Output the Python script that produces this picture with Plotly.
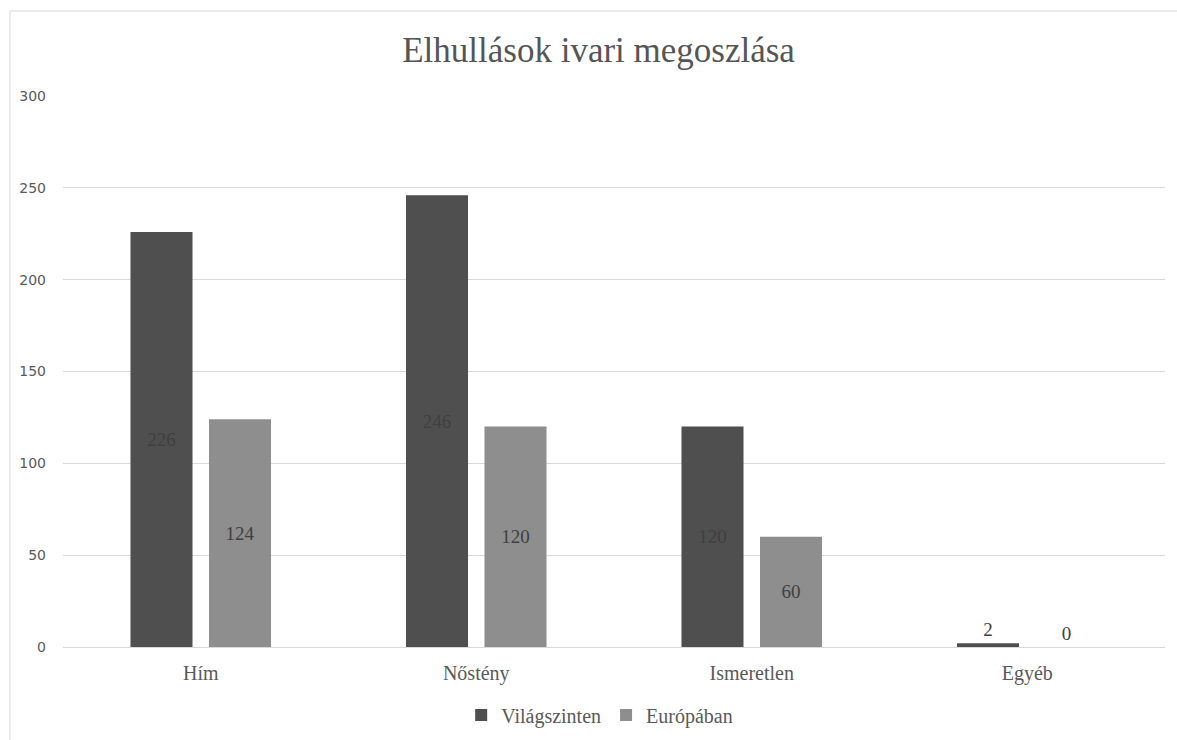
import plotly.graph_objects as go

categories = ["Hím", "Nőstény", "Ismeretlen", "Egyéb"]
vilag = [226, 246, 120, 2]
europa = [124, 120, 60, 0]
series_names = ["Világszinten", "Európában"]
yticks = [0, 50, 100, 150, 200, 250, 300]

serif = "Liberation Serif, Times New Roman, serif"
sans = "DejaVu Sans, sans-serif"

def positions(vals):
    return ["inside" if v > 10 else "outside" for v in vals]

fig = go.Figure()
fig.add_trace(go.Bar(
    x=categories, y=vilag, name=series_names[0],
    marker=dict(color="#4f4f4f", line=dict(width=0)),
    text=[str(v) for v in vilag], textposition=positions(vilag),
    insidetextanchor="middle", cliponaxis=False,
    textfont=dict(family=serif, size=19, color="#404040"),
))
fig.add_trace(go.Bar(
    x=categories, y=europa, name=series_names[1],
    marker=dict(color="#8e8e8e", line=dict(width=0)),
    text=[str(v) for v in europa], textposition=positions(europa),
    insidetextanchor="middle", cliponaxis=False,
    textfont=dict(family=serif, size=19, color="#404040"),
))

fig.update_layout(
    width=1177, height=740,
    margin=dict(l=63, r=12, t=96, b=93, autoexpand=False),
    paper_bgcolor="white", plot_bgcolor="white",
    barmode="group", bargap=0.43, bargroupgap=0.21,
    title=dict(text="Elhullások ivari megoszlása", x=0.486, xref="paper",
               xanchor="center", y=1 - 50/740, yanchor="middle",
               font=dict(family=serif, size=35, color="#555555")),
    showlegend=True,
    legend=dict(orientation="h", x=0.487, xanchor="center", xref="paper",
                y=1 - 715/740, yref="container", yanchor="middle",
                font=dict(family=serif, size=20, color="#595959"),
                itemwidth=30, traceorder="normal"),
    uniformtext=dict(mode=False),
)
fig.update_xaxes(showgrid=False, showline=True, linecolor="#d9d9d9", linewidth=1,
                 ticks="", tickfont=dict(family=serif, size=20, color="#595959"),
                 ticklabelstandoff=8)
fig.update_yaxes(range=[0, 300], tickvals=yticks, showgrid=True, gridcolor="#d9d9d9",
                 gridwidth=1, zeroline=False, showline=False, ticks="",
                 tickfont=dict(family=sans, size=14, color="#595959"),
                 ticklabelstandoff=16)

# chart frame
fig.add_shape(type="rect", xref="paper", yref="paper",
              x0=(10 - 63) / 1102, x1=(1190 - 63) / 1102,
              y0=-(760 - 647) / 551, y1=1 + (96 - 11) / 551,
              line=dict(color="#d9d9d9", width=1), fillcolor="rgba(0,0,0,0)",
              layer="below")

fig.write_html("out.html")
